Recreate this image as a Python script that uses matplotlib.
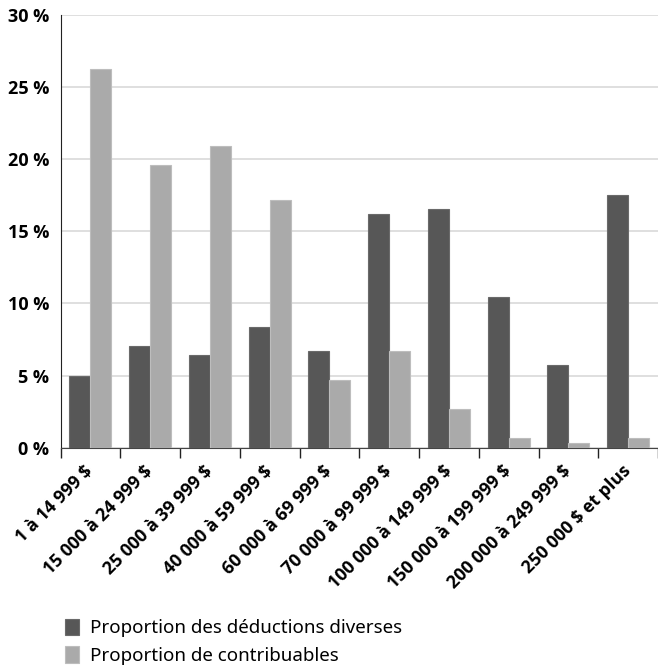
import numpy as np
import matplotlib.pyplot as plt

plt.rcParams['font.family'] = ['Noto Sans', 'DejaVu Sans']

# Tranches de revenu et proportions (%)
categories = ["1 à 14 999 $", "15 000 à 24 999 $", "25 000 à 39 999 $",
              "40 000 à 59 999 $", "60 000 à 69 999 $", "70 000 à 99 999 $",
              "100 000 à 149 999 $", "150 000 à 199 999 $",
              "200 000 à 249 999 $", "250 000 $ et plus"]
deductions = [5.0, 7.05, 6.4, 8.4, 6.7, 16.2, 16.55, 10.45, 5.7, 17.55]
contribuables = [26.3, 19.6, 20.9, 17.2, 4.7, 6.7, 2.7, 0.65, 0.3, 0.65]
y_ticks = [0, 5, 10, 15, 20, 25, 30]

bold_font = dict(family=['Open Sans', 'DejaVu Sans'], weight='bold')

fig = plt.figure(figsize=(6.58, 6.65), dpi=100)
ax = fig.add_axes([0.092, 0.327, 0.908, 0.650])

x = np.arange(len(categories))
w = 0.35
ax.bar(x - w / 2, deductions, w, color='#575757', edgecolor='#6a6a6a', linewidth=0.8,
       label="Proportion des déductions diverses", zorder=3)
ax.bar(x + w / 2, contribuables, w, color='#aaaaaa', edgecolor='#bdbdbd', linewidth=0.8,
       label="Proportion de contribuables", zorder=3)

ax.set_xlim(-0.5, len(categories) - 0.5)
ax.set_ylim(0, 30)
ax.set_yticks(y_ticks)
ax.set_yticklabels([f"{v} %" for v in y_ticks], fontsize=13, **bold_font)
ax.tick_params(axis='y', length=0, pad=8)
ax.grid(axis='y', color='#d9d9d9', linewidth=1.2, zorder=0)

# graduations aux limites des catégories, étiquettes au centre
ax.set_xticks(np.arange(len(categories) + 1) - 0.5)
ax.set_xticklabels([])
ax.tick_params(axis='x', which='major', length=7, width=1, color='#222222', direction='out')
ax.set_xticks(x, minor=True)
ax.set_xticklabels(categories, minor=True, rotation=45, ha='right', va='center',
                   rotation_mode='anchor', fontsize=12.8, **bold_font)
ax.tick_params(axis='x', which='minor', length=0, pad=15)

for s in ['top', 'right']:
    ax.spines[s].set_visible(False)
ax.spines['left'].set_color('#222222')
ax.spines['bottom'].set_color('#444444')

fig.legend(loc='upper left', bbox_to_anchor=(0.088, 0.081), frameon=False,
           fontsize=13.5, handlelength=0.75, handleheight=1.0, handletextpad=0.55,
           labelspacing=0.45, borderaxespad=0)

fig.savefig("out.png", dpi=100)
